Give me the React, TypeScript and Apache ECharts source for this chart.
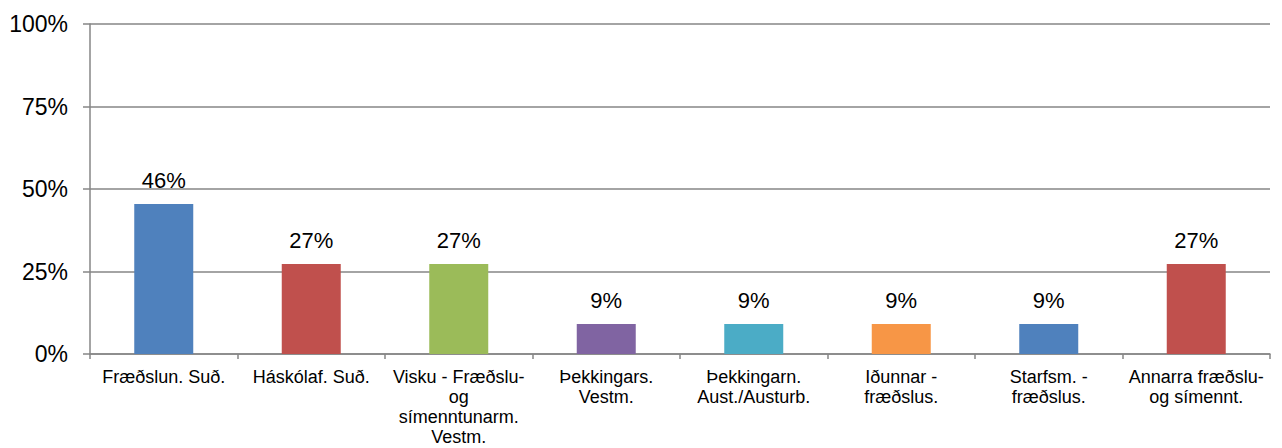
import React, { useEffect, useRef } from "react";
import * as echarts from "echarts";

const categories = [
  "Fræðslun. Suð.",
  "Háskólaf. Suð.",
  "Visku - Fræðslu-\nog\nsímenntunarm.\nVestm.",
  "Þekkingars.\nVestm.",
  "Þekkingarn.\nAust./Austurb.",
  "Iðunnar -\nfræðslus.",
  "Starfsm. -\nfræðslus.",
  "Annarra fræðslu-\nog símennt.",
];
const values = [45.45, 27.27, 27.27, 9.09, 9.09, 9.09, 9.09, 27.27];
const barLabels = ["46%", "27%", "27%", "9%", "9%", "9%", "9%", "27%"];
const colors = ["#4F81BD", "#C0504D", "#9BBB59", "#8064A2", "#4BACC6", "#F79646", "#4F81BD", "#C0504D"];

const FONT = "Arial, 'Liberation Sans', sans-serif";

export default function App() {
  const ref = useRef<HTMLDivElement>(null);
  useEffect(() => {
    if (!ref.current) return;
    const chart = echarts.init(ref.current, undefined, { renderer: "svg" });
    chart.setOption({
      animation: false,
      grid: { left: 90, right: 12, top: 24, bottom: 94, containLabel: false },
      xAxis: {
        type: "category",
        data: categories,
        axisLine: { lineStyle: { color: "#868686", width: 1.5 } },
        axisTick: { show: true, interval: 0, length: 5, lineStyle: { color: "#868686", width: 1.5 } },
        axisLabel: {
          interval: 0,
          margin: 13,
          fontSize: 18,
          lineHeight: 20,
          color: "#000",
          fontFamily: FONT,
        },
      },
      yAxis: {
        type: "value",
        min: 0,
        max: 100,
        interval: 25,
        axisLine: { show: true, lineStyle: { color: "#868686", width: 1.5 } },
        axisTick: { show: true, length: 7, lineStyle: { color: "#868686", width: 1.5 } },
        splitLine: { lineStyle: { color: "#868686", width: 1.5 } },
        axisLabel: {
          formatter: "{value}%",
          margin: 22,
          fontSize: 23,
          color: "#000",
          fontFamily: FONT,
        },
      },
      series: [
        {
          type: "bar",
          barWidth: "40%",
          data: values.map((v, i) => ({ value: v, itemStyle: { color: colors[i] } })),
          label: {
            show: true,
            position: "top",
            distance: 13,
            fontSize: 22,
            color: "#000",
            fontFamily: FONT,
            formatter: (p: any) => barLabels[p.dataIndex],
          },
        },
      ],
    });
    return () => chart.dispose();
  }, []);
  return <div ref={ref} style={{ width: 1282, height: 448, position: "absolute", left: 0, top: 0, background: "#fff" }} />;
}
